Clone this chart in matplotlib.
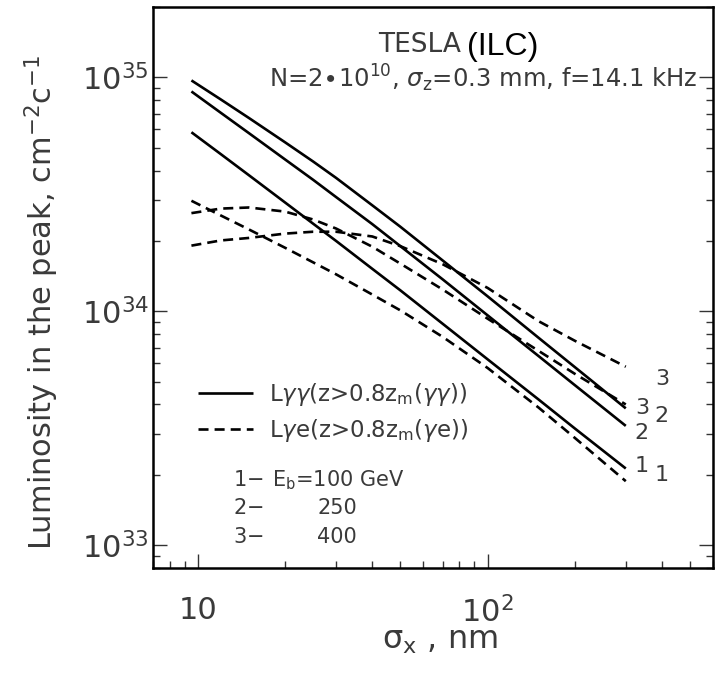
import matplotlib
matplotlib.use('Agg')
import matplotlib.pyplot as plt
from matplotlib.ticker import FixedLocator, LogLocator, NullFormatter

plt.rcParams['font.family'] = ['DejaVu Sans']
plt.rcParams['mathtext.fontset'] = 'dejavusans'

# sigma_x, nm
sigma = [9.5, 12, 15, 20, 25, 30, 40, 50, 70, 100, 150, 200, 300]

# L_gamma_gamma (z > 0.8 z_m), solid lines, Eb = 100 / 250 / 400 GeV
L_gg_1 = [5.83e34, 4.70e34, 3.82e34, 2.92e34, 2.37e34, 2.00e34, 1.52e34, 1.23e34, 8.85e33, 6.24e33, 4.20e33, 3.16e33, 2.13e33]
L_gg_2 = [8.71e34, 7.06e34, 5.78e34, 4.46e34, 3.65e34, 3.08e34, 2.36e34, 1.90e34, 1.37e34, 9.62e33, 6.44e33, 4.84e33, 3.24e33]
L_gg_3 = [9.71e34, 8.05e34, 6.71e34, 5.28e34, 4.37e34, 3.72e34, 2.84e34, 2.30e34, 1.65e34, 1.16e34, 7.71e33, 5.78e33, 3.85e33]

# L_gamma_e (z > 0.8 z_m), dashed lines
L_ge_1 = [2.97e34, 2.57e34, 2.24e34, 1.87e34, 1.62e34, 1.44e34, 1.18e34, 1.01e34, 7.78e33, 5.73e33, 3.88e33, 2.88e33, 1.88e33]
L_ge_2 = [2.63e34, 2.75e34, 2.78e34, 2.67e34, 2.47e34, 2.26e34, 1.89e34, 1.60e34, 1.24e34, 9.31e33, 6.78e33, 5.41e33, 4.00e33]
L_ge_3 = [1.91e34, 2.01e34, 2.06e34, 2.15e34, 2.19e34, 2.19e34, 2.09e34, 1.90e34, 1.59e34, 1.26e34, 9.08e33, 7.49e33, 5.80e33]

curve_ids = ['1', '2', '3']
energies = ['100 GeV', '250', '400']

txt = '#3a3a3a'
fig = plt.figure(figsize=(7.15, 6.74), dpi=100)
ax = fig.add_axes([153/715, 1-568/674, 560/715, 561/674])
ax.set_xscale('log')
ax.set_yscale('log')
ax.set_xlim(7, 600)
ax.set_ylim(8e32, 2e35)

lw = 1.9
solid = []
for L in [L_gg_1, L_gg_2, L_gg_3]:
    ln, = ax.plot(sigma, L, color='black', lw=lw, solid_capstyle='butt', solid_joinstyle='round')
    solid.append(ln)
dashed = []
for L in [L_ge_1, L_ge_2, L_ge_3]:
    ln, = ax.plot(sigma, L, color='black', lw=lw, dashes=(3.8, 2.3))
    dashed.append(ln)

# end-of-curve numbers (inner column: solid, outer column: dashed)
solid_off = [(9, 3), (9, -7), (9, 0)]
dash_off = [(29, 6), (29, -12), (29, -12)]
for i, L in enumerate([L_gg_1, L_gg_2, L_gg_3]):
    ax.annotate(curve_ids[i], (sigma[-1], L[-1]), xytext=solid_off[i], textcoords='offset pixels',
                fontsize=16, color=txt, va='center', ha='left')
for i, L in enumerate([L_ge_1, L_ge_2, L_ge_3]):
    ax.annotate(curve_ids[i], (sigma[-1], L[-1]), xytext=dash_off[i], textcoords='offset pixels',
                fontsize=16, color=txt, va='center', ha='left')

# axes style
for s in ax.spines.values():
    s.set_linewidth(1.8)
ax.xaxis.set_major_locator(FixedLocator([10, 100]))
ax.set_xticklabels(['10', '$10^2$'])
ax.xaxis.set_minor_locator(LogLocator(base=10, subs=range(2, 10), numticks=20))
ax.xaxis.set_minor_formatter(NullFormatter())
ax.yaxis.set_major_locator(FixedLocator([1e33, 1e34, 1e35]))
ax.set_yticklabels(['$10^{33}$', '$10^{34}$', '$10^{35}$'])
ax.yaxis.set_minor_locator(LogLocator(base=10, subs=range(2, 10), numticks=20))
ax.yaxis.set_minor_formatter(NullFormatter())
ax.tick_params(which='both', direction='in', top=False, right=True, width=1.0, colors='#333333')
ax.tick_params(which='major', length=10)
ax.tick_params(which='minor', length=5)
ax.tick_params(axis='x', which='major', labelsize=22, pad=20, labelcolor=txt)
ax.tick_params(axis='y', which='major', labelsize=22, pad=3, labelcolor=txt)

# legend
ax.legend([solid[2], dashed[2]],
          [r'L$\gamma\gamma$(z>0.8z$_{\rm m}$($\gamma\gamma$))', r'L$\gamma$e(z>0.8z$_{\rm m}$($\gamma$e))'],
          loc='upper left', bbox_to_anchor=(0.08, 0.333), frameon=False, fontsize=16.5,
          handlelength=2.4, handletextpad=0.7, labelspacing=0.4, borderpad=0, borderaxespad=0,
          labelcolor=txt)
rows_y = [0.157, 0.107, 0.055]
ax.text(0.143, rows_y[0], '1$-$', transform=ax.transAxes, fontsize=15, color=txt, va='center')
ax.text(0.213, rows_y[0], 'E$_{\\rm b}$=' + energies[0], transform=ax.transAxes, fontsize=15, color=txt, va='center')
for i in [1, 2]:
    ax.text(0.143, rows_y[i], curve_ids[i] + '$-$', transform=ax.transAxes, fontsize=15, color=txt, va='center')
    ax.text(0.293, rows_y[i], energies[i], transform=ax.transAxes, fontsize=15, color=txt, va='center')

# title block
ax.text(0.550, 0.932, 'TESLA', transform=ax.transAxes, fontsize=19, color=txt, ha='right', va='center')
ax.text(0.560, 0.929, '(ILC)', transform=ax.transAxes, fontsize=23, color='black', ha='left', va='center',
        family='Liberation Sans')
ax.text(0.972, 0.873, r'N=2$\bullet$10$^{10}$, $\sigma_{\rm z}$=0.3 mm, f=14.1 kHz', transform=ax.transAxes,
        fontsize=17.5, color=txt, ha='right', va='center')

fig.text(42/715, 1-302/674, r'Luminosity in the peak, cm$^{-2}$c$^{-1}$', rotation=90, fontsize=22,
         color=txt, ha='center', va='center')
fig.text(440/715, 1-640/674, 'σ$_{\\rm x}$ , nm', fontsize=23, color=txt, ha='center', va='center')

fig.savefig('out.png', dpi=100)
